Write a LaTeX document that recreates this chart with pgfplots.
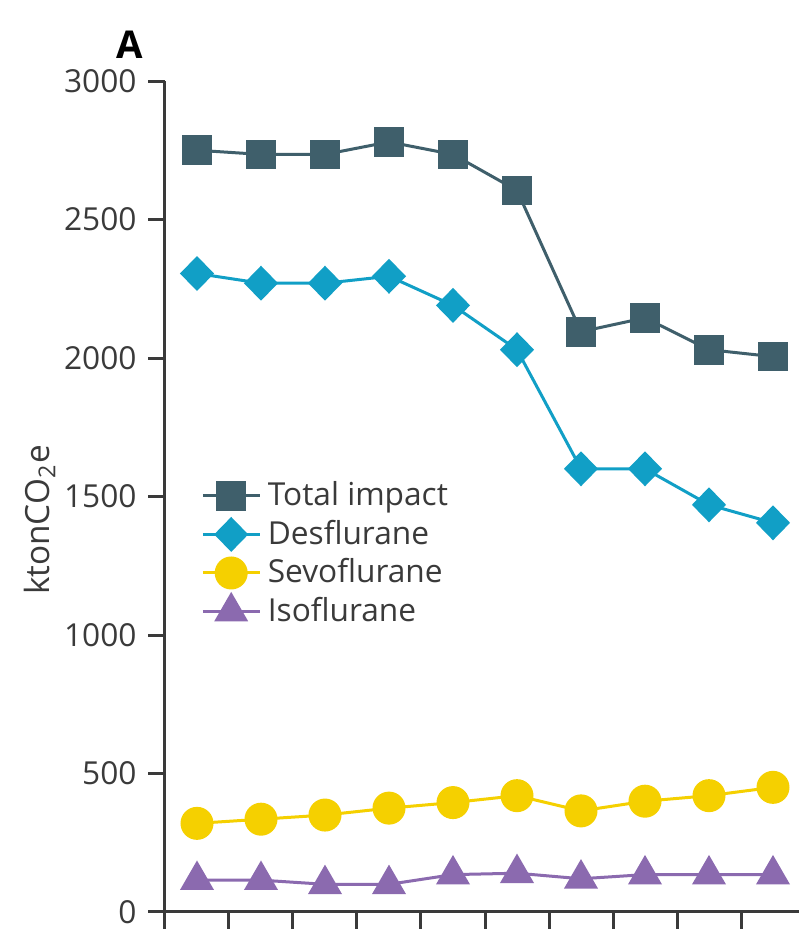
\documentclass[border=0pt]{standalone}
\usepackage{fontspec}
\setmainfont{Open Sans}
\usepackage{pgfplots}
\pgfplotsset{compat=1.18}

\definecolor{totalc}{HTML}{3F5F6B}
\definecolor{desc}{HTML}{119FC6}
\definecolor{sevoc}{HTML}{F5D000}
\definecolor{isoc}{HTML}{8B6AAF}
\definecolor{axc}{HTML}{3A3A3A}

\begin{document}
\begin{tikzpicture}
\begin{axis}[
    at={(0,0)}, anchor=south west,
    scale only axis,
    width=192pt, height=249.3pt,
    xmin=-0.5, xmax=9.5,
    ymin=0, ymax=3000,
    axis x line=bottom, axis y line=left,
    axis line style={-, axc, line width=0.9pt},
    tick style={axc, line width=0.9pt},
    tick align=outside,
    major tick length=5pt,
    xtick={-0.5,0.5,...,9.5}, xticklabels={},
    ytick={0,500,...,3000},
    scaled y ticks=false,
    /pgf/number format/1000 sep={},
    /pgf/number format/assume math mode=true,
    tick label style={font=\fontsize{9.5}{11}\selectfont, text=axc},
    clip=false,
    legend style={at={(0.04,0.535)}, anchor=north west, draw=none, fill=none,
        font=\fontsize{9.5}{11}\selectfont, text=axc, row sep=-1.2pt},
    legend cell align=left,
]
% total impact
\addplot[totalc, line width=0.9pt, mark=square*, mark size=4pt] coordinates {
    (0,2750) (1,2735) (2,2735) (3,2780) (4,2735) (5,2605) (6,2095) (7,2145) (8,2030) (9,2005)};
\addlegendentry{Total impact}
% desflurane
\addplot[desc, line width=0.9pt, mark=diamond*, mark size=4.6pt, mark options={xscale=1.3}] coordinates {
    (0,2305) (1,2270) (2,2270) (3,2295) (4,2190) (5,2030) (6,1600) (7,1600) (8,1470) (9,1405)};
\addlegendentry{Desflurane}
% sevoflurane
\addplot[sevoc, line width=0.9pt, mark=*, mark size=4.5pt] coordinates {
    (0,320) (1,335) (2,350) (3,375) (4,395) (5,420) (6,365) (7,400) (8,420) (9,450)};
\addlegendentry{Sevoflurane}
% isoflurane
\addplot[isoc, line width=0.9pt, mark=triangle*, mark size=5pt] coordinates {
    (0,115) (1,115) (2,100) (3,100) (4,135) (5,140) (6,120) (7,135) (8,135) (9,135)};
\addlegendentry{Isoflurane}
\end{axis}
\node[rotate=90, text=axc, font=\fontsize{10}{12}\selectfont] at (-37.5pt,117.6pt) {ktonCO\textsubscript{2}e};
\node[text=black, font=\fontsize{11.5}{13}\selectfont\bfseries] at (-10.5pt,260.1pt) {A};
\pgfresetboundingbox
\useasboundingbox (-49.5pt,-5.7pt) rectangle (190.2pt,273.6pt);
\end{tikzpicture}
\end{document}
